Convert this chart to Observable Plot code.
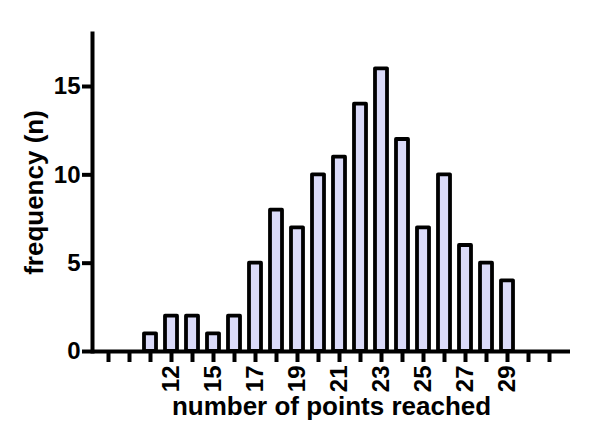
<!DOCTYPE html>
<html><head><meta charset="utf-8">
<script src="https://cdn.jsdelivr.net/npm/d3@7"></script>
<script src="https://cdn.jsdelivr.net/npm/@observablehq/plot@0.6"></script>
<style>body{margin:0;background:#fff}</style>
</head><body><div id="chart"></div>
<script>
const categories = [0,1,2,3,4,5,6,7,8,9,10,11,12,13,14,15,16,17,18,19,20,21];
const frequencies = [0,0,1,2,2,1,2,5,8,7,10,11,14,16,12,7,10,6,5,4,0,0];
const tickLabels = ["","","","12","","15","","17","","19","","21","","23","","25","","27","","29","",""];
const yTicks = [0,5,10,15];
const xTitle = "number of points reached";
const yTitle = "frequency (n)";

const data = categories.map((c, i) => ({c, f: frequencies[i]})).filter(d => d.f > 0);

const chart = Plot.plot({
  width: 600,
  height: 440,
  marginLeft: 92,
  marginRight: 30,
  marginTop: 33,
  marginBottom: 89,
  style: {fontFamily: "'Liberation Sans', Arial, sans-serif", fontWeight: "bold", fontSize: "24px", color: "black", background: "white"},
  x: {type: "band", domain: categories, range: [92, 565], paddingInner: 0.42, paddingOuter: 0.21},
  y: {domain: [0, 18]},
  marks: [
    Plot.barY(data, {x: "c", y: "f", fill: "#dadaf8", stroke: "black", strokeWidth: 3.8, strokeLinejoin: "round"}),
    Plot.axisX({ticks: categories, tickSize: 11, strokeWidth: 4, tickRotate: -90, tickPadding: 3, tickFormat: i => tickLabels[i], label: null, fontSize: 24, fontWeight: "bold"}),
    Plot.axisY({ticks: yTicks, tickSize: 10, strokeWidth: 4, tickPadding: 2, label: null, fontSize: 24, fontWeight: "bold"}),
    Plot.ruleY([0], {stroke: "black", strokeWidth: 4}),
    Plot.frame({anchor: "left", stroke: "black", strokeWidth: 4}),
    Plot.text([yTitle], {frameAnchor: "left", textAnchor: "middle", rotate: -90, dx: -58, fontSize: 26, fontWeight: "bold", fill: "black"}),
    Plot.text([xTitle], {frameAnchor: "bottom", textAnchor: "middle", dy: 63, fontSize: 26, fontWeight: "bold", fill: "black"})
  ]
});
document.getElementById("chart").append(chart);
</script>
</body></html>
